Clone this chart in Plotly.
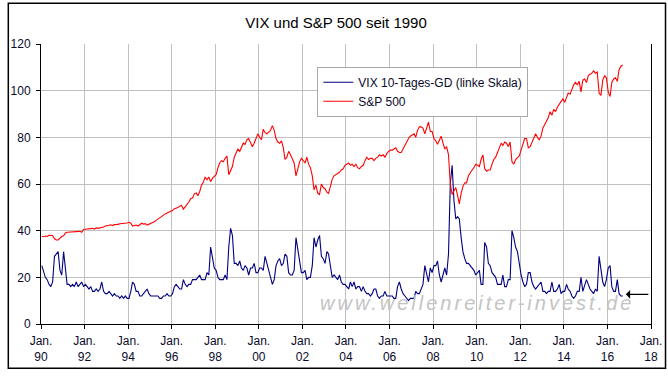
import pandas as pd
import plotly.graph_objects as go

# VIX 10-Tages-GD, monthly readings (left scale), Jan 1990 .. Sep 2016
vix = [
    25, 22, 20, 19, 17, 16, 18, 29, 30, 31, 23, 21,   # 1990
    31, 24, 17, 17, 16, 17, 16, 18, 16, 17, 18, 16,   # 1991
    17, 16, 15, 16, 14, 14, 15, 14, 15, 18, 14, 13,   # 1992
    13, 14, 13, 12, 13, 12, 12, 11, 12, 11, 12, 11,   # 1993
    11, 14, 18, 17, 14, 14, 12, 12, 13, 14, 15, 13,   # 1994
    12, 12, 12, 12, 12, 11, 11, 12, 12, 13, 12, 12,   # 1995
    13, 16, 17, 16, 15, 15, 19, 17, 16, 17, 17, 19,   # 1996
    19, 19, 20, 21, 19, 19, 19, 22, 21, 33, 28, 24,   # 1997
    23, 20, 19, 19, 19, 21, 19, 33, 41, 38, 26, 26,   # 1998
    25, 27, 24, 23, 25, 24, 21, 24, 24, 26, 22, 22,   # 1999
    24, 24, 23, 29, 26, 22, 19, 17, 19, 25, 27, 28,   # 2000
    25, 26, 30, 29, 22, 21, 21, 23, 37, 32, 25, 22,   # 2001
    22, 23, 19, 20, 20, 25, 37, 33, 36, 38, 29, 28,   # 2002
    26, 31, 30, 24, 20, 21, 20, 19, 21, 18, 17, 17,   # 2003
    16, 15, 18, 16, 18, 15, 16, 16, 14, 16, 14, 13,   # 2004
    13, 12, 13, 15, 15, 12, 11, 12, 12, 14, 12, 12,   # 2005
    12, 12, 11, 11, 16, 18, 15, 13, 12, 11, 10, 11,   # 2006
    11, 11, 14, 13, 13, 15, 17, 25, 21, 18, 24, 22,   # 2007
    25, 25, 27, 21, 18, 21, 24, 21, 30, 60, 68, 53,   # 2008
    45, 46, 45, 37, 31, 28, 26, 26, 25, 24, 23, 21,   # 2009
    22, 23, 17, 17, 35, 33, 26, 25, 22, 21, 20, 17,   # 2010
    17, 17, 21, 16, 16, 19, 19, 40, 37, 33, 31, 25,   # 2011
    21, 18, 16, 17, 22, 22, 18, 16, 15, 16, 17, 18,   # 2012
    14, 14, 13, 14, 14, 18, 14, 14, 15, 17, 13, 14,   # 2013
    14, 17, 15, 14, 12, 11, 12, 14, 14, 20, 14, 17,   # 2014
    19, 17, 15, 14, 13, 15, 14, 29, 23, 18, 16, 19,   # 2015
    24, 25, 16, 14, 14, 19, 13, 12, 12,               # 2016
]

# S&P 500, as drawn against the left scale, Jan 1990 .. Sep 2016
spx = [
    37.6, 37.4, 37.7, 37.5, 38.0, 37.8, 37.9, 36.5, 36.0, 36.0, 36.8, 37.5,   # 1990
    37.8, 39.0, 39.3, 39.4, 39.5, 39.3, 39.6, 39.8, 39.6, 39.7, 39.3, 40.5,   # 1991
    40.6, 40.7, 40.5, 40.8, 41.0, 40.7, 41.2, 41.0, 41.2, 41.2, 41.6, 42.0,   # 1992
    42.0, 42.3, 42.5, 42.2, 42.6, 42.6, 42.7, 43.0, 43.0, 43.2, 43.0, 43.3,   # 1993
    43.6, 43.2, 42.0, 42.2, 42.4, 42.0, 42.5, 43.2, 42.8, 43.0, 42.4, 42.7,   # 1994
    42.9, 43.3, 43.8, 44.4, 45.0, 45.6, 46.3, 46.6, 47.2, 47.6, 48.0, 48.5,   # 1995
    48.6, 49.4, 49.5, 49.9, 50.5, 50.8, 49.2, 50.2, 51.5, 52.3, 53.8, 54.0,   # 1996
    55.8, 56.2, 55.0, 56.8, 59.5, 60.8, 63.0, 61.8, 63.0, 61.0, 62.5, 63.2,   # 1997
    64.0, 67.0, 69.0, 70.0, 69.5, 71.0, 72.0, 64.0, 65.5, 67.5, 71.5, 73.5,   # 1998
    75.0, 74.0, 76.0, 77.5, 77.0, 79.0, 79.5, 77.5, 76.0, 77.5, 79.5, 81.5,   # 1999
    80.0, 79.0, 83.5, 82.0, 81.5, 82.5, 83.0, 85.0, 83.0, 79.5, 78.0, 77.5,   # 2000
    78.5, 75.5, 70.5, 71.5, 74.0, 72.5, 71.0, 69.0, 63.5, 67.0, 69.5, 71.0,   # 2001
    70.0, 69.0, 71.5, 68.5, 67.0, 63.5, 57.5, 59.5, 56.0, 55.5, 60.0, 58.5,   # 2002
    58.0, 56.5, 56.0, 59.5, 62.0, 63.5, 64.0, 64.5, 65.0, 66.0, 66.5, 68.0,   # 2003
    68.5, 69.0, 68.0, 68.5, 67.5, 68.5, 67.0, 66.5, 67.5, 68.0, 70.0, 71.5,   # 2004
    70.5, 71.0, 71.0, 70.0, 71.0, 71.5, 72.5, 72.0, 72.5, 71.5, 73.0, 74.0,   # 2005
    74.5, 74.5, 75.0, 75.5, 74.0, 73.5, 73.5, 75.0, 76.5, 78.5, 79.5, 80.5,   # 2006
    81.0, 81.5, 80.0, 83.0, 84.5, 84.5, 84.0, 81.5, 84.0, 86.5, 82.5, 82.5,   # 2007
    79.5, 78.5, 77.0, 79.0, 80.5, 77.5, 75.0, 76.0, 72.5, 60.0, 55.5, 57.0,   # 2008
    58.5, 55.0, 51.5, 56.0, 59.0, 60.5, 60.5, 63.5, 65.0, 66.0, 67.0, 68.5,   # 2009
    68.0, 67.5, 70.5, 72.5, 66.5, 65.5, 66.0, 66.0, 68.5, 70.5, 71.5, 74.0,   # 2010
    75.5, 77.5, 76.5, 78.0, 77.5, 76.0, 78.0, 69.5, 68.5, 70.5, 71.5, 72.0,   # 2011
    74.5, 77.0, 79.5, 79.5, 75.5, 76.0, 78.0, 80.0, 81.5, 80.0, 79.0, 80.5,   # 2012
    84.0, 85.5, 87.0, 88.5, 91.0, 89.5, 92.0, 91.0, 93.0, 94.0, 95.5, 96.5,   # 2013
    95.0, 97.0, 99.0, 98.5, 100.5, 102.5, 103.5, 102.5, 104.0, 99.5, 104.5, 105.0,  # 2014
    103.5, 106.5, 107.0, 107.5, 108.5, 107.5, 108.0, 99.0, 98.0, 104.5, 106.5, 105.5,  # 2015
    99.5, 97.5, 103.5, 105.0, 105.5, 104.0, 109.0, 110.5, 111.0,                # 2016
]

dates = pd.date_range("1990-01-01", periods=len(vix), freq="MS") + pd.Timedelta(days=14)

tick_years = list(range(1990, 2019, 2))
tick_vals = [f"{y}-01-01" for y in tick_years]
tick_text = [f"Jan.<br>{y % 100:02d}" for y in tick_years]
y_ticks = [0, 20, 40, 60, 80, 100, 120]

title_text = "VIX und S&P 500 seit 1990"
vix_name = "VIX 10-Tages-GD (linke Skala)"
spx_name = "S&P 500"
watermark = "www.wellenreiter-invest.de"
last_vix_date = "2016-11-05"

txt = "#0a0a2a"
grid = "#c0c0c0"

fig = go.Figure()
fig.add_trace(go.Scatter(x=dates, y=vix, mode="lines", name=vix_name,
                         line=dict(color="#000080", width=1.1)))
fig.add_trace(go.Scatter(x=dates, y=spx, mode="lines", name=spx_name,
                         line=dict(color="#ff0000", width=1.1)))

fig.update_layout(
    template="none",
    width=668, height=376,
    margin=dict(l=41, r=17, t=44, b=52, autoexpand=False),
    paper_bgcolor="white", plot_bgcolor="white",
    font=dict(family="Liberation Sans, Arial, sans-serif", size=12, color=txt),
    title=dict(text=title_text, x=0.503, xanchor="center", y=0.94, yanchor="middle",
               font=dict(size=15, color="#000000"), automargin=False),
    showlegend=True,
    legend=dict(x=0.453, y=0.919, xanchor="left", yanchor="top",
                bgcolor="white", bordercolor="#a8a8a8", borderwidth=1,
                font=dict(size=12, color=txt), tracegroupgap=0,
                itemwidth=30),
    xaxis=dict(type="date", range=["1990-01-01", "2018-01-01"],
               tickmode="array", tickvals=tick_vals, ticktext=tick_text,
               showgrid=True, gridcolor=grid, gridwidth=1,
               showline=True, linecolor="black", linewidth=1,
               ticks="outside", ticklen=4, tickcolor="black",
               tickangle=0, zeroline=False, automargin=False,
               ticklabelstandoff=2),
    yaxis=dict(range=[0, 120], tickmode="array", tickvals=y_ticks,
               showgrid=True, gridcolor=grid, gridwidth=1,
               showline=True, linecolor="black", linewidth=1, mirror=True,
               ticks="outside", ticklen=4, tickcolor="black",
               zeroline=False, ticklabelstandoff=3, automargin=False),
)

# outer chart border
fig.add_shape(type="rect", xref="paper", yref="paper",
              x0=-0.0536, x1=1.0238, y0=-0.158, y1=1.1454,
              line=dict(color="black", width=1.5), fillcolor="rgba(0,0,0,0)")

# watermark
fig.add_annotation(text=f'<span style="letter-spacing:3px">{watermark}</span>',
                   xref="paper", yref="paper", x=0.715, y=0.075,
                   xanchor="center", yanchor="middle", showarrow=False,
                   font=dict(size=20, color="#c4c4c4", style="italic",
                             family="Liberation Sans, Arial, sans-serif"))

# arrow pointing to the latest VIX value
fig.add_annotation(x=last_vix_date, y=12.7, xref="x", yref="y", text="",
                   showarrow=True, ax=24, ay=0, arrowhead=1, arrowsize=1.2,
                   arrowwidth=1.2, arrowcolor="black")

fig.write_html("out.html",
               config={"displayModeBar": False},
               post_script="document.body.style.margin='0px';"
                           "document.body.style.overflow='hidden';")
